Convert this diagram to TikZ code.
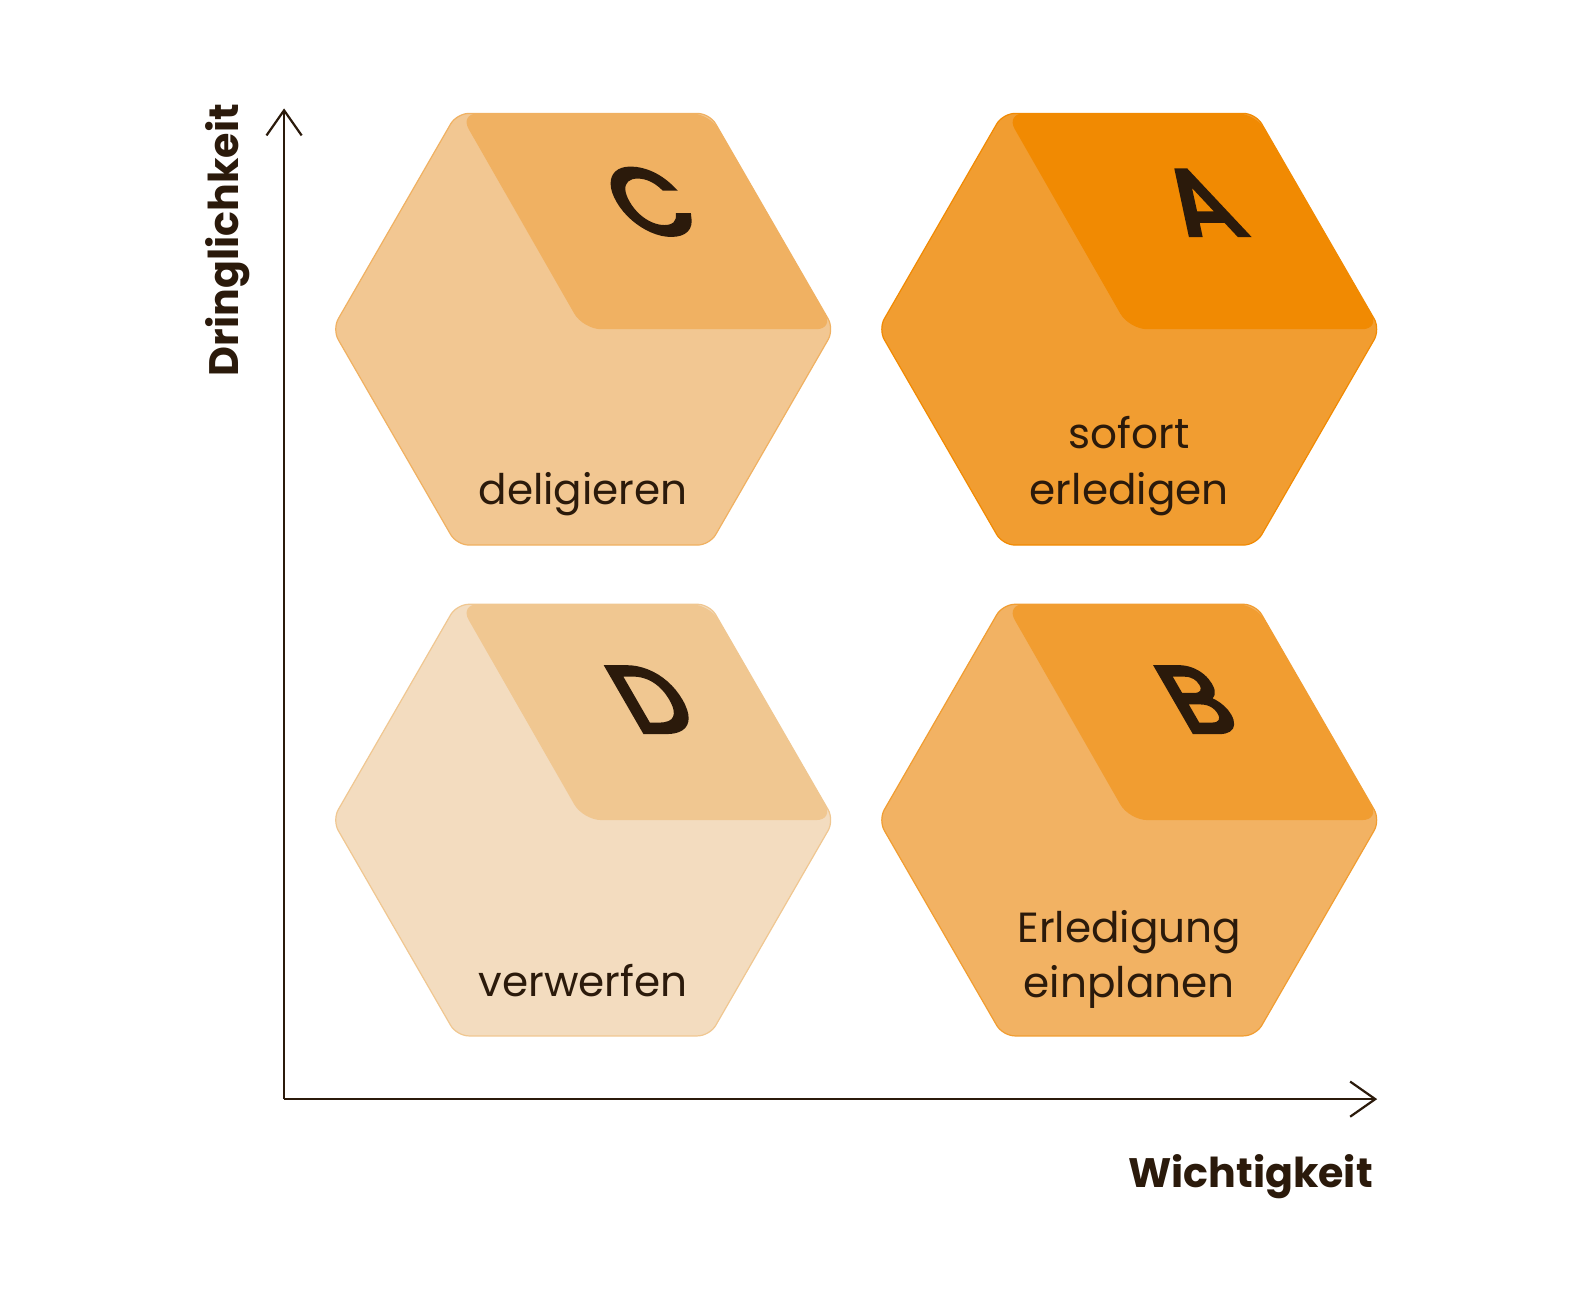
\documentclass[tikz,border=0pt]{standalone}
\usepackage{fontspec}
\setmainfont{Poppins}
\newfontfamily\letterfont[FakeBold=5]{Poppins}
\usetikzlibrary{arrows.meta}
\definecolor{ink}{HTML}{2B1A0B}
\definecolor{cLight}{HTML}{F2C792}
\definecolor{cDark}{HTML}{F0B162}
\definecolor{aLight}{HTML}{F19D31}
\definecolor{aDark}{HTML}{F18A02}
\definecolor{dLight}{HTML}{F3DCBF}
\definecolor{dDark}{HTML}{F0C791}
\definecolor{bLight}{HTML}{F2B263}
\definecolor{bDark}{HTML}{F19D31}
\newcommand\hexcell[4]{%
  \begin{scope}[shift={(#1)}]
    \fill[#2, rounded corners=6pt] (-126,-215) -- (126,-215) -- (250,0) -- (126,215) -- (-126,215) -- (-250,0) -- cycle;
    \fill[#3, rounded corners=9pt] (-123,-215) -- (126,-215) -- (250,0) -- (0,0) -- cycle;
    \draw[#3, line width=0.6pt, rounded corners=6pt] (-126,-215) -- (126,-215) -- (250,0) -- (126,215) -- (-126,215) -- (-250,0) -- cycle;
    \coordinate (#4) at (0,0);
  \end{scope}}
\begin{document}
\begin{tikzpicture}[x=0.5pt,y=-0.5pt,
  letter/.style={font=\letterfont\fontsize{46}{46}\selectfont, text=ink, xslant=-0.577, inner sep=0pt, anchor=center},
  label/.style={font=\fontsize{21}{21}\selectfont, text=ink, inner sep=0pt, anchor=base},
  axislabel/.style={font=\bfseries\fontsize{20.5}{20.5}\selectfont, text=ink, inner sep=0pt},
  axis/.style={draw=ink, line width=1.1pt, -{Straight Barb[length=12.5pt,width=17.5pt,line width=1.1pt]}}]
\useasboundingbox (0,0) rectangle (1568.1,1307.1);
\fill[white] (0,0) rectangle (1574,1312);
\hexcell{581,328}{cLight}{cDark}{hC}
\hexcell{1125,328}{aLight}{aDark}{hA}
\hexcell{581,817}{dLight}{dDark}{hD}
\hexcell{1125,817}{bLight}{bDark}{hB}
\node[letter] (lC) at (648,201) {C};
\node[letter] (lA) at (1196,202) {A};
\node[letter] (lD) at (649,697) {D};
\node[letter] (lB) at (1192,697) {B};
\node[label] (tC) at (581,503) {deligieren};
\node[label] (tA1) at (1125,447) {sofort};
\node[label] (tA2) at (1125,503) {erledigen};
\node[label] (tD) at (581,993) {verwerfen};
\node[label] (tB1) at (1125,939) {Erledigung};
\node[label] (tB2) at (1125,994) {einplanen};
\coordinate (o) at (283,1095);
\coordinate (ytip) at (283,108);
\coordinate (xtip) at (1372,1095);
\draw[axis] (o) -- (ytip);
\draw[axis] (o) -- (xtip);
\node[axislabel, rotate=90, anchor=base west] (ylab) at (238,375) {Dringlichkeit};
\node[axislabel, anchor=base east] (xlab) at (1368,1183) {Wichtigkeit};
\end{tikzpicture}
\end{document}
